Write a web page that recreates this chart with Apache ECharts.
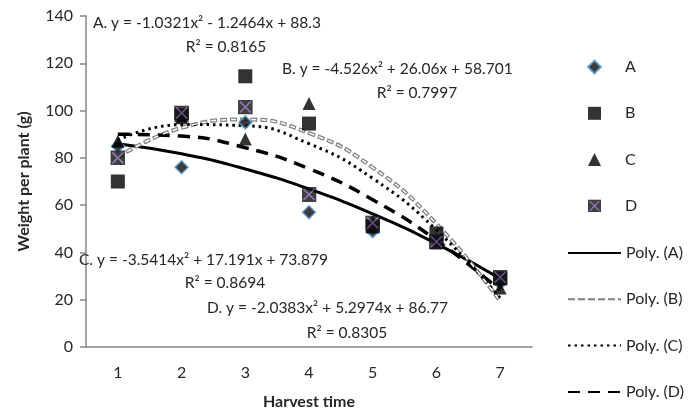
<!DOCTYPE html>
<html>
<head>
<meta charset="utf-8">
<script src="https://cdn.jsdelivr.net/npm/echarts@6/dist/echarts.min.js"></script>
<style>
html,body{margin:0;padding:0;background:#fff;}
#chart{width:694px;height:413px;}
</style>
</head>
<body>
<div id="chart"></div>
<script>
// ---- data ----
const categories = ['1', '2', '3', '4', '5', '6', '7'];
const seriesA = [85, 76, 95, 57, 49, 45, 27];
const seriesB = [70, 98, 114.5, 94.5, 51, 48, 29];
const seriesC = [87, 97, 88, 103, 53, 44, 25];
const seriesD = [80, 99, 101.5, 64.5, 52.5, 44.5, 29.5];
// trend curves (polynomial trendlines) read at each harvest time
const trendA = [86.0, 81.7, 75.3, 66.8, 56.3, 43.7, 29.0];
const trendB = [80.2, 92.7, 96.2, 90.5, 75.9, 52.1, 19.4];
const trendC = [87.5, 94.1, 93.6, 86.0, 71.3, 49.5, 20.7];
const trendD = [90.0, 89.2, 84.3, 75.4, 62.3, 45.2, 24.0];
const yTicks = [0, 20, 40, 60, 80, 100, 120, 140];
const markerNames = ['A', 'B', 'C', 'D'];
const trendNames = ['Poly. (A)', 'Poly. (B)', 'Poly. (C)', 'Poly. (D)'];
const equations = [
  'A. y = -1.0321x² - 1.2464x + 88.3', 'R² = 0.8165',
  'B. y = -4.526x² + 26.06x + 58.701', 'R² = 0.7997',
  'C. y = -3.5414x² + 17.191x + 73.879', 'R² = 0.8694',
  'D. y = -2.0383x² + 5.2974x + 86.77', 'R² = 0.8305'
];

const FONT = 'Lato';
const TXT = '#262626';
const AX = '#868686';

const dSvg = "<svg xmlns='http://www.w3.org/2000/svg' width='30' height='30'><rect x='0' y='0' width='30' height='30' fill='#111111'/><path d='M4 4L26 26M26 4L4 26' stroke='#7d5ca8' stroke-width='3'/></svg>";
const dSymbol = 'image://data:image/svg+xml;charset=utf-8,' + encodeURIComponent(dSvg);

const chart = echarts.init(document.getElementById('chart'), null, {renderer: 'canvas'});

function eqText(str, x, y, align) {
  return {
    type: 'text', x: x, y: y, z: 100,
    style: {text: str, fill: TXT, font: '15.5px ' + FONT, align: align || 'left', verticalAlign: 'middle'}
  };
}

const option = {
  backgroundColor: '#fff',
  animation: false,
  textStyle: {fontFamily: FONT},
  grid: {left: 86, right: 162, top: 16, bottom: 66, containLabel: false, outerBoundsMode: 'none'},
  legend: [
    {
      orient: 'vertical', left: 582, top: 54,
      itemWidth: 13, itemHeight: 13, itemGap: 30.3, symbolKeepAspect: true,
      textStyle: {fontSize: 16, color: TXT, fontFamily: FONT, lineHeight: 16, padding: [0, 0, 0, 19]},
      data: markerNames
    },
    {
      orient: 'vertical', left: 562, top: 240,
      itemWidth: 53, itemHeight: 14, itemGap: 30.3,
      itemStyle: {opacity: 0},
      textStyle: {fontSize: 16, color: TXT, fontFamily: FONT, lineHeight: 16},
      data: trendNames
    }
  ],
  xAxis: {
    type: 'category', data: categories, boundaryGap: true,
    name: 'Harvest time', nameLocation: 'middle', nameGap: 47,
    nameTextStyle: {fontSize: 16, fontWeight: 'bold', color: TXT, fontFamily: FONT},
    axisLine: {lineStyle: {color: AX, width: 1.5}},
    axisTick: {show: false},
    axisLabel: {fontSize: 16, color: TXT, margin: 18, fontFamily: FONT},
    splitLine: {show: false}
  },
  yAxis: {
    type: 'value', min: yTicks[0], max: yTicks[yTicks.length - 1], interval: 20,
    name: 'Weight per plant (g)', nameLocation: 'middle', nameGap: 54, nameRotate: 90,
    nameTextStyle: {fontSize: 16, fontWeight: 'bold', color: TXT, fontFamily: FONT},
    axisLine: {show: true, lineStyle: {color: AX, width: 1.5}},
    axisTick: {show: true, inside: false, length: 6, lineStyle: {color: AX, width: 1.5}},
    axisLabel: {fontSize: 16, color: TXT, margin: 13, fontFamily: FONT},
    splitLine: {show: false}
  },
  series: [
    {name: trendNames[0], type: 'line', data: trendA, smooth: true, symbol: 'none', z: 3,
     lineStyle: {color: '#000', width: 3, type: 'solid'}, itemStyle: {color: '#000'}},
    {name: trendNames[1], type: 'line', data: trendB, smooth: true, symbol: 'none', z: 3,
     lineStyle: {color: '#7f7f7f', width: 4, type: [7, 3], cap: 'butt'}, itemStyle: {color: '#7f7f7f'}},
    {name: 'Poly. (B) inner', type: 'line', data: trendB, smooth: true, symbol: 'none', z: 4,
     lineStyle: {color: '#ffffff', width: 1.5, type: [5, 5], dashOffset: -1, cap: 'butt'}, itemStyle: {color: '#fff'}},
    {name: trendNames[2], type: 'line', data: trendC, smooth: true, symbol: 'none', z: 3,
     lineStyle: {color: '#000', width: 3, type: [2.5, 4], cap: 'butt'}, itemStyle: {color: '#000'}},
    {name: trendNames[3], type: 'line', data: trendD, smooth: true, symbol: 'none', z: 3,
     lineStyle: {color: '#000', width: 3.5, type: [12, 8], cap: 'butt'}, itemStyle: {color: '#000'}},
    {name: markerNames[0], type: 'scatter', data: seriesA, symbol: 'diamond', symbolSize: 13, z: 5,
     itemStyle: {color: '#0d0d0d', borderColor: '#5b9bd5', borderWidth: 1.5}},
    {name: markerNames[1], type: 'scatter', data: seriesB, symbol: 'rect', symbolSize: 14, z: 5,
     itemStyle: {color: '#000'}},
    {name: markerNames[2], type: 'scatter', data: seriesC, symbol: 'triangle', symbolSize: 13, z: 5,
     itemStyle: {color: '#000'}},
    {name: markerNames[3], type: 'scatter', data: seriesD, symbol: dSymbol, symbolSize: 15, z: 5,
     itemStyle: {color: '#111'}}
  ],
  graphic: [
    eqText(equations[0], 93, 23),
    eqText(equations[1], 226, 47, 'center'),
    eqText(equations[2], 282, 69),
    eqText(equations[3], 417, 93, 'center'),
    eqText(equations[4], 79, 260),
    eqText(equations[5], 225, 283, 'center'),
    eqText(equations[6], 207, 308),
    eqText(equations[7], 347, 333, 'center')
  ]
};
chart.setOption(option);
</script>
</body>
</html>
